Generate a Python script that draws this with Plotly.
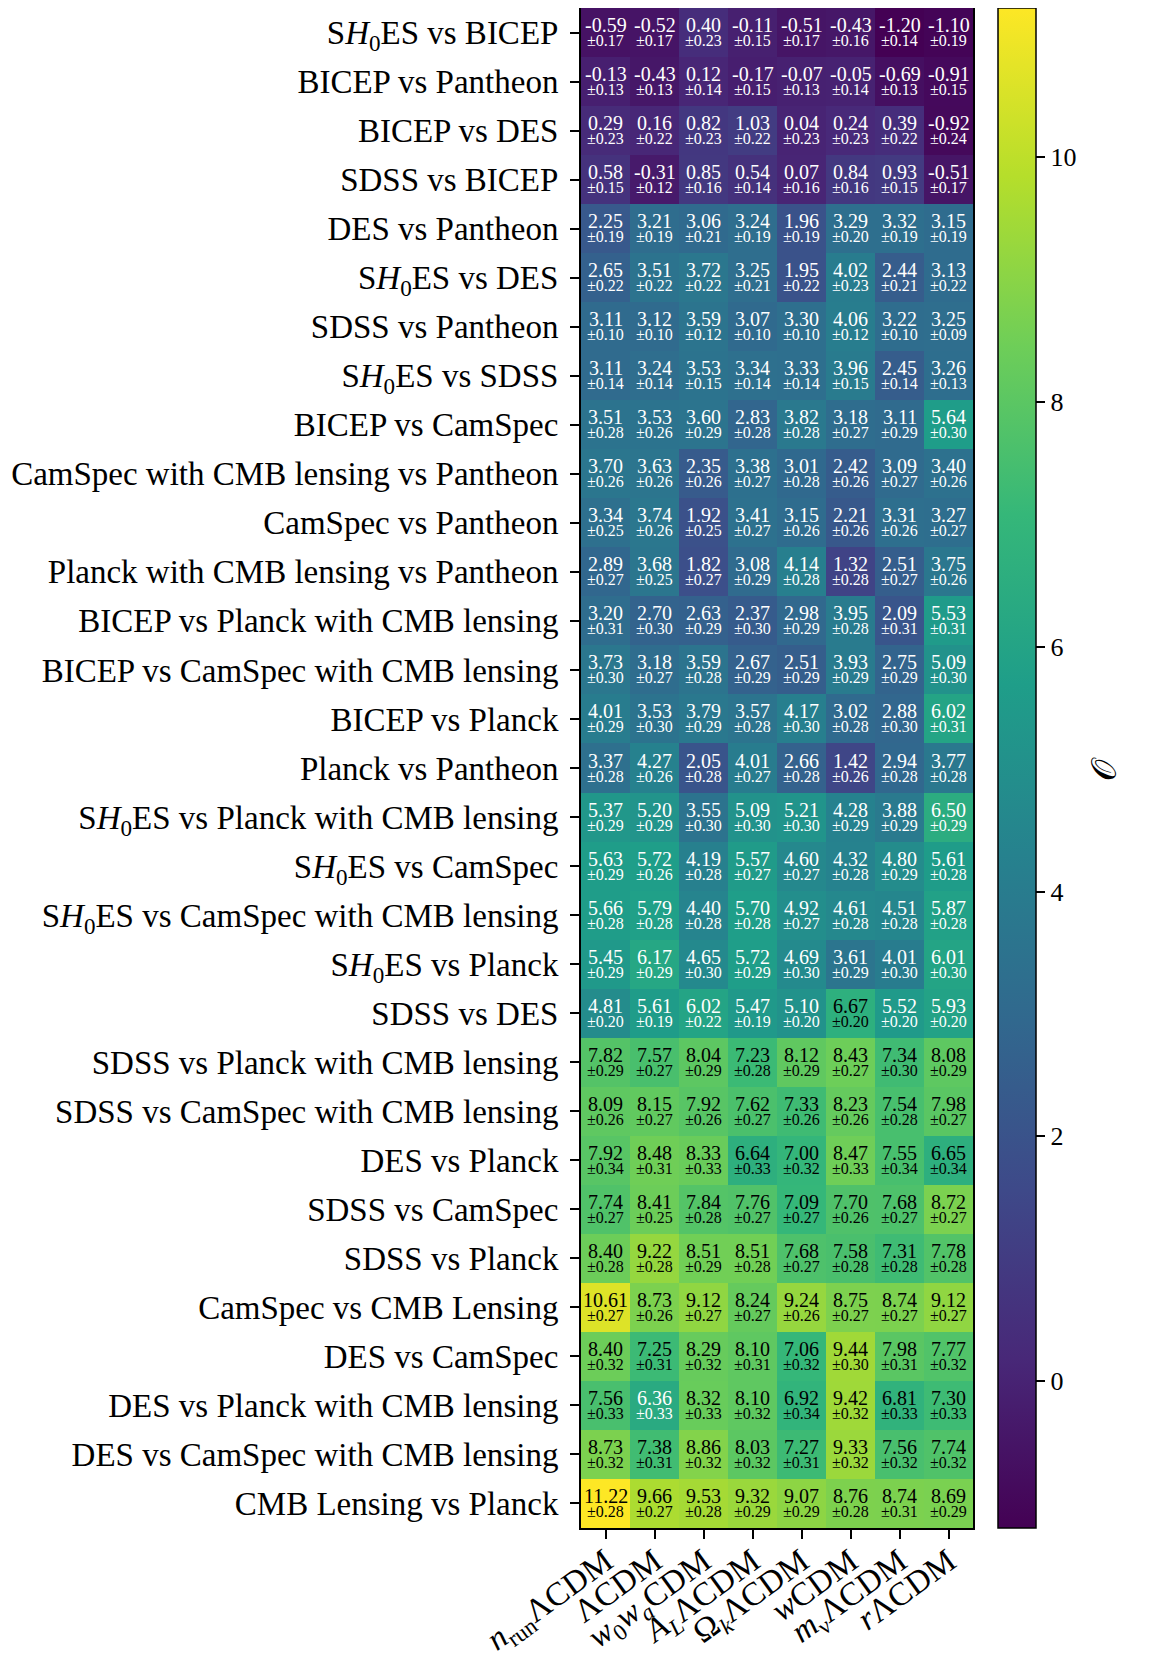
import plotly.graph_objects as go

rows = [
    "S<i>H</i><sub>0</sub>ES vs BICEP",
    "BICEP vs Pantheon",
    "BICEP vs DES",
    "SDSS vs BICEP",
    "DES vs Pantheon",
    "S<i>H</i><sub>0</sub>ES vs DES",
    "SDSS vs Pantheon",
    "S<i>H</i><sub>0</sub>ES vs SDSS",
    "BICEP vs CamSpec",
    "CamSpec with CMB lensing vs Pantheon",
    "CamSpec vs Pantheon",
    "Planck with CMB lensing vs Pantheon",
    "BICEP vs Planck with CMB lensing",
    "BICEP vs CamSpec with CMB lensing",
    "BICEP vs Planck",
    "Planck vs Pantheon",
    "S<i>H</i><sub>0</sub>ES vs Planck with CMB lensing",
    "S<i>H</i><sub>0</sub>ES vs CamSpec",
    "S<i>H</i><sub>0</sub>ES vs CamSpec with CMB lensing",
    "S<i>H</i><sub>0</sub>ES vs Planck",
    "SDSS vs DES",
    "SDSS vs Planck with CMB lensing",
    "SDSS vs CamSpec with CMB lensing",
    "DES vs Planck",
    "SDSS vs CamSpec",
    "SDSS vs Planck",
    "CamSpec vs CMB Lensing",
    "DES vs CamSpec",
    "DES vs Planck with CMB lensing",
    "DES vs CamSpec with CMB lensing",
    "CMB Lensing vs Planck",
]

models = [
    "<i>n</i><sub>run</sub>ΛCDM",
    "ΛCDM",
    "<i>w</i><sub>0</sub><i>w</i><sub><i>a</i></sub>CDM",
    "<i>A</i><sub><i>L</i></sub>ΛCDM",
    "Ω<sub><i>k</i></sub>ΛCDM",
    "<i>w</i>CDM",
    "<i>m</i><sub>ν</sub>ΛCDM",
    "<i>r</i>ΛCDM",
]

values = [
    [-0.59, -0.52, 0.40, -0.11, -0.51, -0.43, -1.20, -1.10],
    [-0.13, -0.43, 0.12, -0.17, -0.07, -0.05, -0.69, -0.91],
    [0.29, 0.16, 0.82, 1.03, 0.04, 0.24, 0.39, -0.92],
    [0.58, -0.31, 0.85, 0.54, 0.07, 0.84, 0.93, -0.51],
    [2.25, 3.21, 3.06, 3.24, 1.96, 3.29, 3.32, 3.15],
    [2.65, 3.51, 3.72, 3.25, 1.95, 4.02, 2.44, 3.13],
    [3.11, 3.12, 3.59, 3.07, 3.30, 4.06, 3.22, 3.25],
    [3.11, 3.24, 3.53, 3.34, 3.33, 3.96, 2.45, 3.26],
    [3.51, 3.53, 3.60, 2.83, 3.82, 3.18, 3.11, 5.64],
    [3.70, 3.63, 2.35, 3.38, 3.01, 2.42, 3.09, 3.40],
    [3.34, 3.74, 1.92, 3.41, 3.15, 2.21, 3.31, 3.27],
    [2.89, 3.68, 1.82, 3.08, 4.14, 1.32, 2.51, 3.75],
    [3.20, 2.70, 2.63, 2.37, 2.98, 3.95, 2.09, 5.53],
    [3.73, 3.18, 3.59, 2.67, 2.51, 3.93, 2.75, 5.09],
    [4.01, 3.53, 3.79, 3.57, 4.17, 3.02, 2.88, 6.02],
    [3.37, 4.27, 2.05, 4.01, 2.66, 1.42, 2.94, 3.77],
    [5.37, 5.20, 3.55, 5.09, 5.21, 4.28, 3.88, 6.50],
    [5.63, 5.72, 4.19, 5.57, 4.60, 4.32, 4.80, 5.61],
    [5.66, 5.79, 4.40, 5.70, 4.92, 4.61, 4.51, 5.87],
    [5.45, 6.17, 4.65, 5.72, 4.69, 3.61, 4.01, 6.01],
    [4.81, 5.61, 6.02, 5.47, 5.10, 6.67, 5.52, 5.93],
    [7.82, 7.57, 8.04, 7.23, 8.12, 8.43, 7.34, 8.08],
    [8.09, 8.15, 7.92, 7.62, 7.33, 8.23, 7.54, 7.98],
    [7.92, 8.48, 8.33, 6.64, 7.00, 8.47, 7.55, 6.65],
    [7.74, 8.41, 7.84, 7.76, 7.09, 7.70, 7.68, 8.72],
    [8.40, 9.22, 8.51, 8.51, 7.68, 7.58, 7.31, 7.78],
    [10.61, 8.73, 9.12, 8.24, 9.24, 8.75, 8.74, 9.12],
    [8.40, 7.25, 8.29, 8.10, 7.06, 9.44, 7.98, 7.77],
    [7.56, 6.36, 8.32, 8.10, 6.92, 9.42, 6.81, 7.30],
    [8.73, 7.38, 8.86, 8.03, 7.27, 9.33, 7.56, 7.74],
    [11.22, 9.66, 9.53, 9.32, 9.07, 8.76, 8.74, 8.69],
]

errors = [
    [0.17, 0.17, 0.23, 0.15, 0.17, 0.16, 0.14, 0.19],
    [0.13, 0.13, 0.14, 0.15, 0.13, 0.14, 0.13, 0.15],
    [0.23, 0.22, 0.23, 0.22, 0.23, 0.23, 0.22, 0.24],
    [0.15, 0.12, 0.16, 0.14, 0.16, 0.16, 0.15, 0.17],
    [0.19, 0.19, 0.21, 0.19, 0.19, 0.20, 0.19, 0.19],
    [0.22, 0.22, 0.22, 0.21, 0.22, 0.23, 0.21, 0.22],
    [0.10, 0.10, 0.12, 0.10, 0.10, 0.12, 0.10, 0.09],
    [0.14, 0.14, 0.15, 0.14, 0.14, 0.15, 0.14, 0.13],
    [0.28, 0.26, 0.29, 0.28, 0.28, 0.27, 0.29, 0.30],
    [0.26, 0.26, 0.26, 0.27, 0.28, 0.26, 0.27, 0.26],
    [0.25, 0.26, 0.25, 0.27, 0.26, 0.26, 0.26, 0.27],
    [0.27, 0.25, 0.27, 0.29, 0.28, 0.28, 0.27, 0.26],
    [0.31, 0.30, 0.29, 0.30, 0.29, 0.28, 0.31, 0.31],
    [0.30, 0.27, 0.28, 0.29, 0.29, 0.29, 0.29, 0.30],
    [0.29, 0.30, 0.29, 0.28, 0.30, 0.28, 0.30, 0.31],
    [0.28, 0.26, 0.28, 0.27, 0.28, 0.26, 0.28, 0.28],
    [0.29, 0.29, 0.30, 0.30, 0.30, 0.29, 0.29, 0.29],
    [0.29, 0.26, 0.28, 0.27, 0.27, 0.28, 0.29, 0.28],
    [0.28, 0.28, 0.28, 0.28, 0.27, 0.28, 0.28, 0.28],
    [0.29, 0.29, 0.30, 0.29, 0.30, 0.29, 0.30, 0.30],
    [0.20, 0.19, 0.22, 0.19, 0.20, 0.20, 0.20, 0.20],
    [0.29, 0.27, 0.29, 0.28, 0.29, 0.27, 0.30, 0.29],
    [0.26, 0.27, 0.26, 0.27, 0.26, 0.26, 0.28, 0.27],
    [0.34, 0.31, 0.33, 0.33, 0.32, 0.33, 0.34, 0.34],
    [0.27, 0.25, 0.28, 0.27, 0.27, 0.26, 0.27, 0.27],
    [0.28, 0.28, 0.29, 0.28, 0.27, 0.28, 0.28, 0.28],
    [0.27, 0.26, 0.27, 0.27, 0.26, 0.27, 0.27, 0.27],
    [0.32, 0.31, 0.32, 0.31, 0.32, 0.30, 0.31, 0.32],
    [0.33, 0.33, 0.33, 0.32, 0.34, 0.32, 0.33, 0.33],
    [0.32, 0.31, 0.32, 0.32, 0.31, 0.32, 0.32, 0.32],
    [0.28, 0.27, 0.28, 0.29, 0.29, 0.28, 0.31, 0.29],
]

cbar_ticks = [0, 2, 4, 6, 8, 10]
cbar_label = "𝒪"

FONT = "Liberation Serif"
OFF = 8  # default page body margin
W, H = 1152 - OFF, 1656 - OFF
L, T = 581 - OFF, 8 - OFF
R = W - (973 - OFF)
B = H - (1528 - OFF)
PW, PH = W - L - R, H - T - B

xi = list(range(len(models)))
yi = list(range(len(rows)))
zmin = min(min(r) for r in values)
zmax = max(max(r) for r in values)

fig = go.Figure(go.Heatmap(
    z=values, x=xi, y=yi, colorscale="Viridis", zmin=zmin, zmax=zmax,
    xgap=0, ygap=0, hoverinfo="z",
    colorbar=dict(
        x=(998 - OFF - L) / PW, xanchor="left", y=0.5, yanchor="middle",
        len=1.0, lenmode="fraction", thickness=38, thicknessmode="pixels",
        outlinecolor="black", outlinewidth=1.5,
        tickvals=cbar_ticks, ticks="outside", ticklen=9, tickwidth=1.5, tickcolor="black",
        tickfont=dict(family=FONT, size=26, color="black"),
        ypad=0, xpad=0,
    ),
))

ann = []
for i, r in enumerate(values):
    for j, v in enumerate(r):
        col = "black" if v > 6.6 else "white"
        ann.append(dict(x=j, y=i, xref="x", yref="y", text=f"{v:.2f}", showarrow=False,
                        yshift=7.5, font=dict(family=FONT, size=20, color=col)))
        ann.append(dict(x=j, y=i, xref="x", yref="y",
                        text=f"±{errors[i][j]:.2f}",
                        showarrow=False, yshift=-8, font=dict(family=FONT, size=16, color=col)))

ann.append(dict(x=(1124 - OFF - L) / PW, y=(H - B - (769 - OFF)) / PH, xref="paper", yref="paper",
                text=cbar_label, showarrow=False, textangle=-90,
                font=dict(family=FONT, size=34, color="black")))

fig.update_layout(
    width=W, height=H, margin=dict(l=L, r=R, t=T, b=B, pad=0, autoexpand=False),
    paper_bgcolor="white", plot_bgcolor="white",
    font=dict(family=FONT, color="black"),
    annotations=ann,
    xaxis=dict(tickvals=xi, ticktext=models, tickangle=-36, ticks="outside", ticklen=9,
               tickwidth=1.5, tickcolor="black", showline=True, linecolor="black", linewidth=2,
               mirror=True, showgrid=False, zeroline=False, range=[-0.5, len(models) - 0.5],
               automargin=False, ticklabelstandoff=-10,
               tickfont=dict(family=FONT, size=33, color="black")),
    yaxis=dict(tickvals=yi, ticktext=rows, ticks="outside", ticklen=9, tickwidth=1.5,
               tickcolor="black", showline=True, linecolor="black", linewidth=2, mirror=True,
               showgrid=False, zeroline=False, range=[len(rows) - 0.5, -0.5],
               automargin=False, ticklabelstandoff=5,
               tickfont=dict(family=FONT, size=33, color="black")),
)

fig.write_html("out.html")
